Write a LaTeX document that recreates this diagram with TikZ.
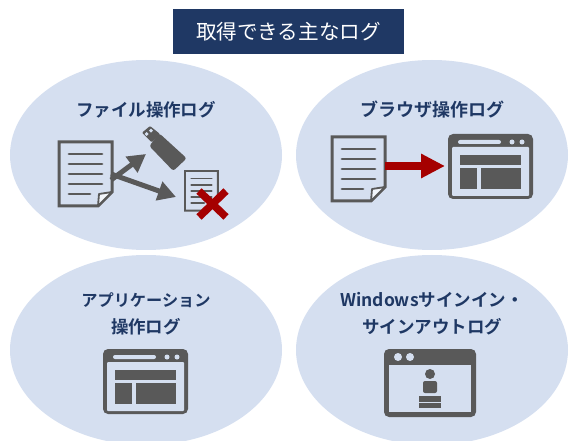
\documentclass[tikz,border=0pt]{standalone}
\usepackage{fontspec}
\setmainfont{Noto Sans CJK JP}[BoldFont={Noto Sans CJK JP Bold}]
\usetikzlibrary{arrows.meta}
\definecolor{bubblefill}{HTML}{D5DFF0}
\definecolor{navy}{HTML}{1F3864}
\definecolor{icon}{HTML}{595959}
\definecolor{alert}{HTML}{A50000}
\def\docw{1}
\tikzset{
  lab/.style={text=navy,font=\bfseries\fontsize{17.5}{27}\selectfont,align=center,inner sep=0pt},
  flow/.style={draw=icon,line width=5pt,-{Triangle[length=18pt,width=19pt]}},
  hotflow/.style={draw=alert,line width=8pt,-{Triangle[length=24pt,width=23pt]}},
  docpic/.pic={
    \draw[icon,line width=\docw*3pt,fill=bubblefill,line join=miter] (0,0)--(53,0)--(53,50)--(39,64)--(0,64)--cycle;
    \draw[icon,line width=\docw*1.8pt,fill=white!70!bubblefill,line join=round] (53,50)--(40,52)--(39,64)--cycle;
    \foreach \yy in {12,22,32,42} \draw[icon,line width=\docw*2.8pt,line cap=round] (10,\yy)--(43,\yy);
    \draw[icon,line width=\docw*2.8pt,line cap=round] (10,52)--(31,52);
  },
  winpic/.pic={
    \fill[icon,rounded corners=5pt] (0,0) rectangle (85,65);
    \fill[bubblefill,rounded corners=1pt] (4,13) rectangle (81,62);
    \fill[bubblefill,rounded corners=2pt] (10,6) rectangle (53,10);
    \fill[bubblefill] (64,8) circle (2.5) (74,8) circle (2.5);
    \fill[icon] (12,21) rectangle (73,31);
    \fill[icon] (12,34) rectangle (29,55);
    \fill[icon] (33,34) rectangle (73,55);
  }
}
\begin{document}
\begin{tikzpicture}[x=1pt,y=-1pt]
\useasboundingbox (0,0) rectangle (571,441);
\begin{scope}
\clip (0,0) rectangle (571,441);
\fill[bubblefill] (146,155) ellipse [x radius=136,y radius=95];
\fill[bubblefill] (432,155) ellipse [x radius=136,y radius=95];
\fill[bubblefill] (146,350) ellipse [x radius=136,y radius=95];
\fill[bubblefill] (432,350) ellipse [x radius=136,y radius=95];
\end{scope}
\node[fill=navy,text=white,minimum width=231pt,minimum height=45pt,inner sep=0pt,font=\fontsize{20.6}{24}\selectfont] (title) at (288.5,31.5) {取得できる主なログ};
\node[lab] (l1) at (146,110) {ファイル操作ログ};
\node[lab,font=\bfseries\fontsize{18}{27}\selectfont] (l2) at (432,110) {ブラウザ操作ログ};
\node[lab] (l3) at (146,313.5) {{\fontsize{16.2}{27}\selectfont アプリケーション}\\操作ログ};
\node[lab] (l4) at (432,313.5) {Windowsサインイン・\\サインアウトログ};
% file icon group
\pic at (59,142) {docpic};
\begingroup
\def\docw{0.62}
\pic[scale=0.62,transform shape] at (185,171) {docpic};
\endgroup
\coordinate (fa) at (111,180);
\coordinate (fb) at (146,154);
\coordinate (fc) at (111,174);
\coordinate (fd) at (176,197);
\draw[flow] (fa)--(fb);
\draw[flow] (fc)--(fd);
% USB stick
\fill[icon,rounded corners=2.5pt] (159.3,133.3)--(186.7,158.3)--(173.3,171)--(149.3,146)--cycle;
\fill[icon,rounded corners=1pt] (142,132.7)--(150,126)--(160,134)--(151.7,142.3)--cycle;
\fill[bubblefill] (146.7,132) -- (148.7,134) -- (146.7,136) -- (144.7,134) -- cycle;
\fill[bubblefill] (151,128.7) -- (153,130.7) -- (151,132.7) -- (149,130.7) -- cycle;
% cross
\coordinate (x1) at (199,191);
\coordinate (x2) at (226,217);
\coordinate (x3) at (226,191);
\coordinate (x4) at (199,217);
\draw[alert,line width=7.5pt] (x1)--(x2) (x3)--(x4);
% browser group
\pic at (332,137) {docpic};
\pic at (448,134) {winpic};
\coordinate (ba) at (385,166);
\coordinate (bb) at (445,166);
\draw[hotflow] (ba)--(bb);
% app window
\pic at (103,349) {winpic};
% login window
\fill[icon,rounded corners=5pt] (384,349) rectangle (476,417);
\fill[bubblefill] (389,365) rectangle (471,412);
\fill[bubblefill] (398,357) circle (4) (410,357) circle (4);
\fill[icon] (430,374) circle (5);
\fill[icon,rounded corners=2pt] (423,393) -- (423,381) -- (437,381) -- (437,393) -- cycle;
\fill[icon] (419,396) rectangle (441,408);
\draw[bubblefill,line width=.8pt] (419,402)--(441,402);
\end{tikzpicture}
\end{document}
